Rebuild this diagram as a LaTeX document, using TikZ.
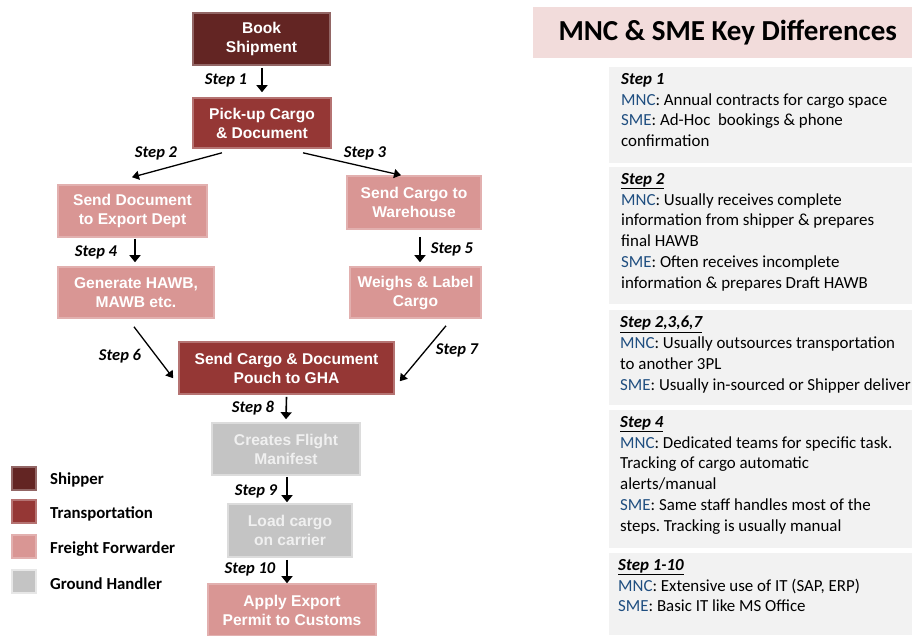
\documentclass[tikz,border=0pt]{standalone}
\usepackage{fontspec}
\setmainfont{Carlito}
\newfontfamily\boxfont{Liberation Sans}
\usetikzlibrary{arrows.meta,calc}
\frenchspacing
\definecolor{shipc}{RGB}{99,37,35}
\definecolor{transc}{RGB}{149,55,53}
\definecolor{ffc}{RGB}{217,150,148}
\definecolor{ghc}{RGB}{196,196,196}
\definecolor{titlec}{RGB}{242,220,219}
\definecolor{panelc}{RGB}{242,242,242}
\definecolor{mncc}{RGB}{31,78,128}
\tikzset{
  flowbox/.style={minimum width=#1, inner sep=0pt, align=center, text=white,
    font=\boxfont\bfseries\fontsize{15.6}{19}\selectfont, line width=1.6pt},
  shipbox/.style={flowbox=#1, fill=shipc, draw=shipc!70!white},
  transbox/.style={flowbox=#1, fill=transc, draw=transc!70!white},
  ffbox/.style={flowbox=#1, fill=ffc, draw=ffc!75!white},
  ghbox/.style={flowbox=#1, fill=ghc, draw=ghc!60!white, text=white!94!black},
  steparrow/.style={line width=1.6pt, -{Triangle[width=11pt,length=7pt]}},
  diagarrow/.style={line width=1.3pt, -{Triangle[width=9pt,length=7pt]}},
  steplabel/.style={font=\bfseries\itshape\fontsize{16.5}{16.5}\selectfont, inner sep=0pt},
  legsq/.style={minimum width=24pt, minimum height=23pt, inner sep=0pt, line width=1.5pt},
  leglabel/.style={anchor=west, font=\bfseries\fontsize{16.8}{16.8}\selectfont, inner sep=0pt},
  panel/.style={fill=panelc, anchor=north west, minimum width=303pt, inner sep=0pt},
  paneltext/.style={anchor=north west, align=left, inner sep=0pt, font=\fontsize{16.9}{20.8}\selectfont},
}
\newcommand{\mnc}{\textcolor{mncc}{MNC}:}
\newcommand{\sme}{\textcolor{mncc}{SME}:}
\begin{document}
\begin{tikzpicture}[x=1pt,y=-1pt]
\useasboundingbox (0,0) rectangle (912,635);
% flow boxes
\node[shipbox=137pt, minimum height=52pt] (book) at (261.5,39) {Book\\Shipment};
\node[transbox=138pt, minimum height=50pt] (pick) at (262,123) {Pick-up Cargo\\\& Document};
\node[ffbox=149pt, minimum height=52pt] (senddoc) at (132.5,211) {Send Document\\to Export Dept};
\node[ffbox=134pt, minimum height=53pt] (sendcargo) at (414,202.5) {Send Cargo to\\Warehouse};
\node[ffbox=156pt, minimum height=51pt] (gen) at (136,292.5) {Generate HAWB,\\MAWB etc.};
\node[ffbox=131pt, minimum height=51pt] (weigh) at (415.5,292.5) {Weighs \& Label\\Cargo};
\node[transbox=215pt, minimum height=52pt] (gha) at (286.5,368) {Send Cargo \& Document\\Pouch to GHA};
\node[ghbox=148pt, minimum height=52pt] (flight) at (286,449) {Creates Flight\\Manifest};
\node[ghbox=124pt, minimum height=53pt] (load) at (290,530.5) {Load cargo\\on carrier};
\node[ffbox=168pt, minimum height=52pt] (apply) at (292,610) {Apply Export\\Permit to Customs};
% arrows (xshift/yshift are in canvas units: negative yshift = down)
\draw[steparrow] ([xshift=0.5pt,yshift=-2pt]book.south) -- ([xshift=0pt,yshift=5pt]pick.north);
\draw[diagarrow] ([xshift=-40pt,yshift=-4pt]pick.south) -- ([xshift=-0.5pt,yshift=7pt]senddoc.north);
\draw[diagarrow] ([xshift=41pt,yshift=-4pt]pick.south) -- ([xshift=-13pt,yshift=0pt]sendcargo.north);
\draw[steparrow] ([xshift=2.5pt,yshift=-1pt]senddoc.south) -- ([xshift=-1pt,yshift=4pt]gen.north);
\draw[steparrow] ([xshift=6pt,yshift=-7pt]sendcargo.south) -- ([xshift=4.5pt,yshift=4pt]weigh.north);
\draw[diagarrow] ([xshift=-2pt,yshift=-8pt]gen.south) -- ([xshift=-5pt,yshift=-37pt]gha.north west);
\draw[diagarrow] ([xshift=30.5pt,yshift=-7pt]weigh.south) -- ([xshift=5pt,yshift=-40pt]gha.north east);
\draw[steparrow] ([xshift=0pt,yshift=-2pt]gha.south) -- ([xshift=0pt,yshift=3pt]flight.north);
\draw[steparrow] ([xshift=1pt,yshift=-1pt]flight.south) -- ([xshift=-3pt,yshift=1pt]load.north);
\draw[steparrow] ([xshift=-3pt,yshift=-2pt]load.south) -- ([xshift=-5pt,yshift=0pt]apply.north);
% step labels
\node[steplabel] (s1) at (226,80) {Step 1};
\node[steplabel] (s2) at (156,153) {Step 2};
\node[steplabel] (s3) at (365,153) {Step 3};
\node[steplabel] (s4) at (96,252) {Step 4};
\node[steplabel] (s5) at (452,249) {Step 5};
\node[steplabel] (s6) at (120,356) {Step 6};
\node[steplabel] (s7) at (457,350) {Step 7};
\node[steplabel] (s8) at (253,408) {Step 8};
\node[steplabel] (s9) at (256,491) {Step 9};
\node[steplabel] (s10) at (250,569) {Step 10};
% legend
\node[legsq, fill=shipc, draw=shipc!70!white] (l1) at (24,478.5) {};
\node[legsq, fill=transc, draw=transc!70!white] (l2) at (24,511.5) {};
\node[legsq, fill=ffc, draw=ffc!75!white] (l3) at (24,546.5) {};
\node[legsq, fill=ghc, draw=ghc!40!white] (l4) at (24,581.5) {};
\node[leglabel] (t1) at (50,480) {Shipper};
\node[leglabel] (t2) at (50,514) {Transportation};
\node[leglabel] (t3) at (50,549) {Freight Forwarder};
\node[leglabel] (t4) at (50,584) {Ground Handler};
% right side
\node[fill=titlec, anchor=north west, minimum width=379pt, minimum height=51pt, inner sep=0pt,
  font=\bfseries\fontsize{29}{29}\selectfont] (title) at (533,7) {\hspace*{10pt}MNC \& SME Key Differences};
\node[panel, minimum height=96pt] (p1) at (609,67) {};
\node[panel, minimum height=137pt] (p2) at (609,167) {};
\node[panel, minimum height=95pt] (p3) at (609,310) {};
\node[panel, minimum height=138pt] (p4) at (609,410) {};
\node[panel, minimum height=82pt] (p5) at (609,553) {};
\node[paneltext] (pt1) at (621,73) {\textbf{\textit{Step 1}}\\
\mnc{} Annual contracts for cargo space\\
\sme{} Ad-Hoc\ \ bookings \& phone\\
confirmation};
\node[paneltext] (pt2) at (621,173) {\textbf{\textit{\underline{Step 2}}}\\
\mnc{} Usually receives complete\\
information from shipper \& prepares\\
final HAWB\\
\sme{} Often receives incomplete\\
information \& prepares Draft HAWB};
\node[paneltext] (pt3) at (620,316) {\textbf{\textit{\underline{Step 2,3,6,7}}}\\
\mnc{} Usually outsources transportation\\
to another 3PL\\
\sme{} Usually in-sourced or Shipper deliver};
\node[paneltext] (pt4) at (620,416) {\textbf{\textit{\underline{Step 4}}}\\
\mnc{} Dedicated teams for specific task.\\
Tracking of cargo automatic\\
alerts/manual\\
\sme{} Same staff handles most of the\\
steps. Tracking is usually manual};
\node[paneltext] (pt5) at (618,559) {\textbf{\textit{\underline{Step 1-10}}}\\
\mnc{} Extensive use of IT (SAP, ERP)\\
\sme{} Basic IT like MS Office};
\end{tikzpicture}
\end{document}
